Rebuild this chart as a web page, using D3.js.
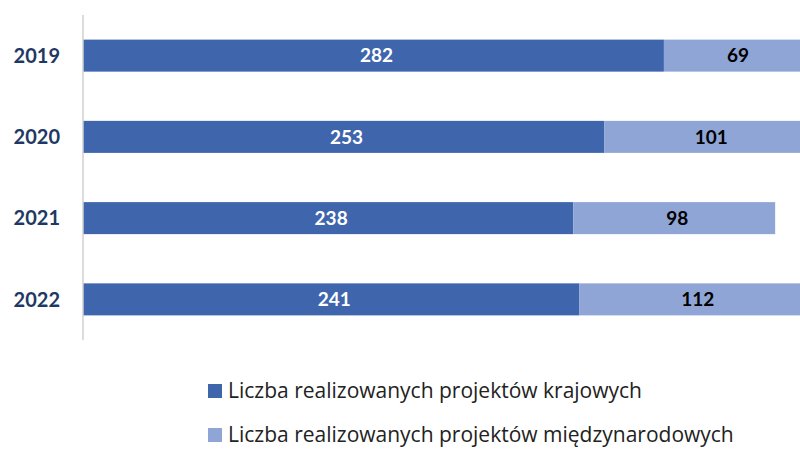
<!DOCTYPE html>
<html>
<head>
<meta charset="utf-8">
<script src="https://cdn.jsdelivr.net/npm/d3@7"></script>
<style>
  body { margin: 0; background: #fff; }
  svg { font-family: Lato, "Open Sans", sans-serif; }
</style>
</head>
<body>
<div class="chart"></div>
<script>
// data
var years = ["2019", "2020", "2021", "2022"];
var domestic = [282, 253, 238, 241];
var international = [69, 101, 98, 112];
var seriesNames = ["Liczba realizowanych projektów krajowych", "Liczba realizowanych projektów międzynarodowych"];

var svgWidth = 800;
var svgHeight = 449;

var colors = ["#3F65AD", "#8FA5D6"];
var labelColors = ["#ffffff", "#000000"];

var svg = d3.select(".chart")
  .append("svg")
  .attr("width", svgWidth)
  .attr("height", svgHeight);

// scales
var xScale = d3.scaleLinear()
  .domain([0, 350])
  .range([83, 804]);

var yScale = d3.scaleBand()
  .domain(years)
  .range([15, 340])
  .paddingInner(0.606)
  .paddingOuter(0.303);

// build stacked rows
var rows = years.map(function(y, i) {
  return { year: y, domestic: domestic[i], international: international[i] };
});
var stack = d3.stack().keys(["domestic", "international"]);
var stacked = stack(rows);

var barGroups = svg.selectAll("g.series")
  .data(stacked)
  .enter()
  .append("g")
  .attr("class", "series")
  .attr("fill", (d, i) => colors[i]);

barGroups.selectAll("rect")
  .data(d => d)
  .enter()
  .append("rect")
  .attr("x", d => xScale(d[0]))
  .attr("y", d => yScale(d.data.year))
  .attr("width", d => xScale(d[1]) - xScale(d[0]))
  .attr("height", yScale.bandwidth());

// value labels
barGroups.each(function(s, si) {
  d3.select(this).selectAll("text")
    .data(s)
    .enter()
    .append("text")
    .attr("x", d => (xScale(d[0]) + xScale(d[1])) / 2 + 3)
    .attr("y", d => yScale(d.data.year) + yScale.bandwidth() / 2)
    .attr("dy", "0.36em")
    .attr("text-anchor", "middle")
    .attr("font-size", "19px")
    .attr("font-weight", "bold")
    .attr("fill", labelColors[si])
    .text(d => d[1] - d[0]);
});

// y axis line
svg.append("line")
  .attr("x1", 83).attr("x2", 83)
  .attr("y1", 15).attr("y2", 340)
  .attr("stroke", "#d0d0d0")
  .attr("stroke-width", 1.5);

// year labels
svg.selectAll("text.year")
  .data(years)
  .enter()
  .append("text")
  .attr("class", "year")
  .attr("x", 60)
  .attr("y", d => yScale(d) + yScale.bandwidth() / 2)
  .attr("dy", "0.36em")
  .attr("text-anchor", "end")
  .attr("font-size", "20px")
  .attr("font-weight", "bold")
  .attr("fill", "#1F3864")
  .text(d => d);

// legend
var legend = svg.selectAll("g.legend")
  .data(seriesNames)
  .enter()
  .append("g")
  .attr("class", "legend")
  .attr("transform", (d, i) => `translate(208, ${391 + i * 44})`);

legend.append("rect")
  .attr("x", 0)
  .attr("y", -7)
  .attr("width", 14)
  .attr("height", 14)
  .attr("fill", (d, i) => colors[i]);

legend.append("text")
  .attr("x", 20)
  .attr("y", 0)
  .attr("dy", "0.33em")
  .attr("font-family", "'Open Sans', sans-serif")
  .attr("font-size", "21px")
  .attr("fill", "#222")
  .text(d => d);
</script>
</body>
</html>
